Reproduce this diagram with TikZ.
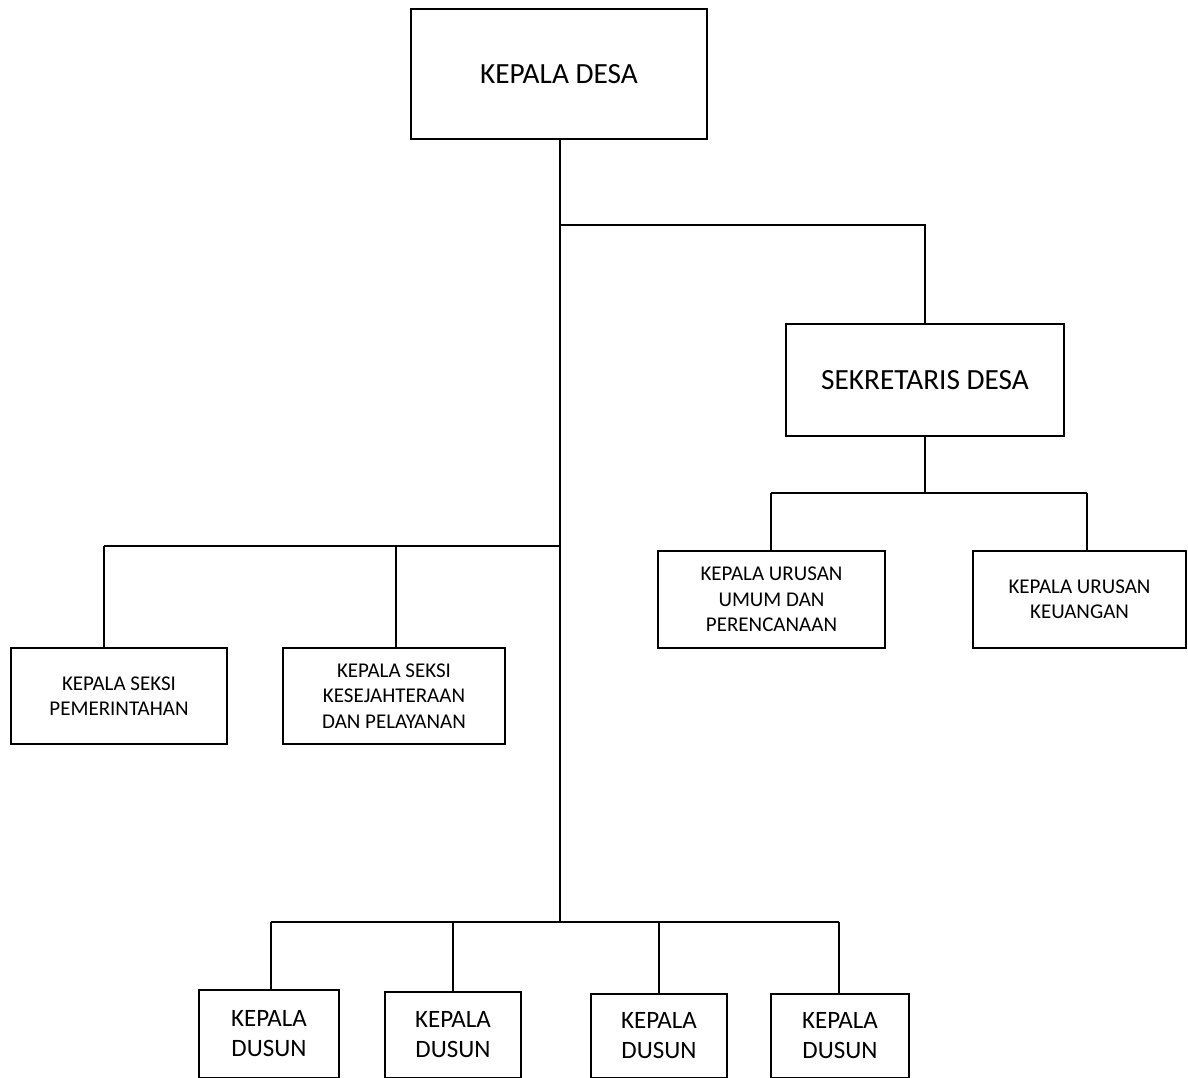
\documentclass[tikz,border=0pt]{standalone}
\usepackage{fontspec}
\setmainfont{Carlito}
\begin{document}
\begin{tikzpicture}[x=1pt,y=-1pt,
  box/.style={draw,line width=1.6pt,inner sep=0pt,align=center},
  big/.style={font=\fontsize{29.3}{35}\selectfont},
  small/.style={font=\fontsize{21}{25.5}\selectfont},
  dusun/.style={box,font=\fontsize{25}{30}\selectfont},
  conn/.style={line width=1.4pt}]
\useasboundingbox (0,0) rectangle (1188,1077);
\clip (0,0) rectangle (1188,1077);
% nodes
\node[box,big,minimum width=296,minimum height=130] (desa) at (559,74) {KEPALA DESA};
\node[box,big,minimum width=278,minimum height=112] (sek) at (925,380) {SEKRETARIS DESA};
\node[box,small,minimum width=227,minimum height=97] (urum) at (771.5,599.5) {KEPALA URUSAN\\UMUM DAN\\PERENCANAAN};
\node[box,small,minimum width=213,minimum height=97] (keu) at (1079.5,599.5) {KEPALA URUSAN\\KEUANGAN};
\node[box,small,minimum width=216,minimum height=96] (pem) at (119,696) {KEPALA SEKSI\\PEMERINTAHAN};
\node[box,small,minimum width=222,minimum height=96] (kes) at (394,696) {KEPALA SEKSI\\KESEJAHTERAAN\\DAN PELAYANAN};
\node[dusun,minimum width=140,minimum height=88] (d1) at (269,1034) {KEPALA\\DUSUN};
\node[dusun,minimum width=136,minimum height=86] (d2) at (453,1035) {KEPALA\\DUSUN};
\node[dusun,minimum width=136,minimum height=84] (d3) at (659,1036) {KEPALA\\DUSUN};
\node[dusun,minimum width=138,minimum height=84] (d4) at (840,1036) {KEPALA\\DUSUN};
% junction coordinates
\coordinate (jt) at (560,225);
\coordinate (jl) at (560,546);
\coordinate (jb) at (560,922);
\coordinate (js) at (925,493);
\coordinate (ju) at (771,493);
\coordinate (jk) at (1087,493);
\coordinate (jp) at (104,546);
\coordinate (jq) at (396,546);
\coordinate (b1) at (271,922);
\coordinate (b2) at (453,922);
\coordinate (b3) at (659,922);
\coordinate (b4) at (839,922);
% connectors
\draw[conn] (desa.south -| jb) -- (jb);
\draw[conn] (jt) -| (sek.north);
\draw[conn] (sek.south) -- (js);
\draw[conn] (ju) -- (jk);
\draw[conn] (ju) -- (ju |- urum.north);
\draw[conn] (jk) -- (jk |- keu.north);
\draw[conn] (jl) -- (jp);
\draw[conn] (jp) -- (jp |- pem.north);
\draw[conn] (jq) -- (jq |- kes.north);
\draw[conn] (b1) -- (b4);
\draw[conn] (b1) -- (b1 |- d1.north);
\draw[conn] (b2) -- (b2 |- d2.north);
\draw[conn] (b3) -- (b3 |- d3.north);
\draw[conn] (b4) -- (b4 |- d4.north);
\end{tikzpicture}
\end{document}
